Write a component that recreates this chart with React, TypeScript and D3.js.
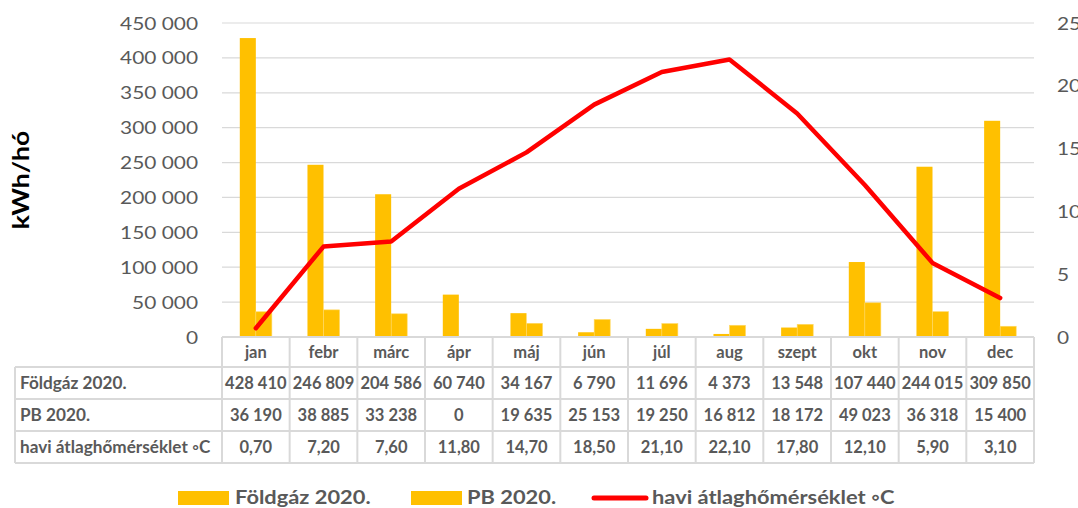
import React from "react";
import * as d3 from "d3";

const months = ["jan", "febr", "márc", "ápr", "máj", "jún", "júl", "aug", "szept", "okt", "nov", "dec"];
const foldgaz = [428410, 246809, 204586, 60740, 34167, 6790, 11696, 4373, 13548, 107440, 244015, 309850];
const pb = [36190, 38885, 33238, 0, 19635, 25153, 19250, 16812, 18172, 49023, 36318, 15400];
const temp = [0.7, 7.2, 7.6, 11.8, 14.7, 18.5, 21.1, 22.1, 17.8, 12.1, 5.9, 3.1];
const leftTicks = [0, 50000, 100000, 150000, 200000, 250000, 300000, 350000, 400000, 450000];
const rightTicks = [0, 5, 10, 15, 20, 25];
const seriesNames = ["Földgáz 2020.", "PB 2020.", "havi átlaghőmérséklet ◦C"];

const FONT = "Lato, 'Open Sans', sans-serif";
const GOLD = "#FFC000";
const GRAY = "#595959";
const GRID = "#d9d9d9";

// hungarian style numbers: space as thousands separator
const fmtThousands = (v: number) => d3.format(",")(v).replace(/,/g, " ");
const fmtTemp = (v: number) => v.toFixed(2).replace(".", ",");

// text stretched horizontally, the reference glyphs are wider than Lato's
function Txt(props: {
  x: number;
  y: number;
  sx?: number;
  size: number;
  anchor?: string;
  bold?: boolean;
  fill?: string;
  rotate?: number;
  children: React.ReactNode;
}) {
  const { x, y, sx = 1, size, anchor = "start", bold, fill = GRAY, rotate = 0, children } = props;
  return (
    <text
      transform={`translate(${x},${y}) rotate(${rotate}) scale(${sx},1)`}
      textAnchor={anchor}
      fontSize={size}
      fontWeight={bold ? "bold" : "normal"}
      fill={fill}
    >
      {children}
    </text>
  );
}

export default function App() {
  const width = 1078;
  const height = 508;
  const plot = { left: 222, right: 1034, top: 23, bottom: 337 };

  const x = d3.scaleBand<string>().domain(months).range([plot.left, plot.right]).padding(0);
  const xSub = d3
    .scaleBand<string>()
    .domain(["fg", "pb"])
    .range([0, x.bandwidth()])
    .paddingInner(0)
    .paddingOuter(1.11);
  const yL = d3.scaleLinear().domain([0, 450000]).range([plot.bottom, plot.top]);
  const yR = d3.scaleLinear().domain([0, 25]).range([plot.bottom, plot.top]);
  const cx = (m: string) => (x(m) as number) + x.bandwidth() / 2;

  const line = d3
    .line<number>()
    .x((_, i) => cx(months[i]))
    .y((d) => yR(d));

  // data table geometry
  const tableLeft = 15;
  const rowEdges = [337, 367, 399, 431, 463];
  const tableRows = [
    { label: seriesNames[0], values: foldgaz.map(fmtThousands) },
    { label: seriesNames[1], values: pb.map(fmtThousands) },
    { label: seriesNames[2], values: temp.map(fmtTemp) },
  ];
  const tSize = 16.5;
  const tSx = 1.0;

  return (
    <svg width={width} height={height} style={{ position: "absolute", left: 0, top: 0 }} fontFamily={FONT}>
      <rect width={width} height={height} fill="#fff" />

      {/* gridlines */}
      {leftTicks.slice(1).map((t) => (
        <line key={t} x1={plot.left} x2={plot.right} y1={yL(t)} y2={yL(t)} stroke={GRID} strokeWidth={1.2} />
      ))}

      {/* left axis labels */}
      {leftTicks.map((t) => (
        <Txt key={t} x={198} y={yL(t) + 6.5} sx={1.16} size={18} anchor="end">
          {fmtThousands(t)}
        </Txt>
      ))}
      {/* right axis labels, cut by the edge as in the original */}
      {rightTicks.map((t) => (
        <Txt key={t} x={1057} y={yR(t) + 6.5} sx={1.16} size={18}>
          {t}
        </Txt>
      ))}

      <Txt x={29} y={(plot.top + plot.bottom) / 2} rotate={-90} sx={1.15} size={23} anchor="middle" bold fill="#000">
        kWh/hó
      </Txt>

      {/* bars */}
      {months.map((m, i) => (
        <g key={m} transform={`translate(${x(m)},0)`}>
          <rect
            x={xSub("fg")}
            y={yL(foldgaz[i])}
            width={xSub.bandwidth()}
            height={plot.bottom - yL(foldgaz[i])}
            fill={GOLD}
          />
          <rect
            x={xSub("pb")}
            y={yL(pb[i])}
            width={xSub.bandwidth()}
            height={plot.bottom - yL(pb[i])}
            fill={GOLD}
            stroke="#ffd966"
            strokeWidth={0.6}
          />
        </g>
      ))}

      {/* temperature line */}
      <path d={line(temp) as string} fill="none" stroke="#FF0000" strokeWidth={4.5} strokeLinejoin="round" strokeLinecap="round" />

      {/* data table */}
      <g stroke={GRID} strokeWidth={2}>
        <line x1={plot.left} x2={plot.right} y1={rowEdges[0]} y2={rowEdges[0]} />
        {rowEdges.slice(1).map((y) => (
          <line key={y} x1={tableLeft} x2={plot.right} y1={y} y2={y} />
        ))}
        <line x1={tableLeft} x2={tableLeft} y1={rowEdges[1]} y2={rowEdges[4]} />
        {months.map((m) => (
          <line key={m} x1={x(m)} x2={x(m)} y1={rowEdges[0]} y2={rowEdges[4]} />
        ))}
        <line x1={plot.right} x2={plot.right} y1={rowEdges[0]} y2={rowEdges[4]} />
      </g>
      {months.map((m) => (
        <Txt key={m} x={cx(m)} y={(rowEdges[0] + rowEdges[1]) / 2 + 5.5} sx={tSx} size={tSize} anchor="middle" bold>
          {m}
        </Txt>
      ))}
      {tableRows.map((r, ri) => {
        const yBase = (rowEdges[ri + 1] + rowEdges[ri + 2]) / 2 + 6;
        return (
          <g key={r.label}>
            <Txt x={tableLeft + 5} y={yBase} sx={1.04} size={tSize} bold>
              {r.label}
            </Txt>
            {r.values.map((v, i) => (
              <Txt key={i} x={cx(months[i])} y={yBase} sx={tSx} size={tSize} anchor="middle" bold>
                {v}
              </Txt>
            ))}
          </g>
        );
      })}

      {/* legend */}
      <rect x={178} y={491} width={51} height={14} fill={GOLD} />
      <Txt x={235} y={504} sx={1.15} size={19} bold>
        {seriesNames[0]}
      </Txt>
      <rect x={411} y={491} width={51} height={14} fill={GOLD} />
      <Txt x={467} y={504} sx={1.15} size={19} bold>
        {seriesNames[1]}
      </Txt>
      <line x1={594} x2={646} y1={498} y2={498} stroke="#FF0000" strokeWidth={5} strokeLinecap="round" />
      <Txt x={652} y={504} sx={1.15} size={19} bold>
        {seriesNames[2]}
      </Txt>
    </svg>
  );
}
